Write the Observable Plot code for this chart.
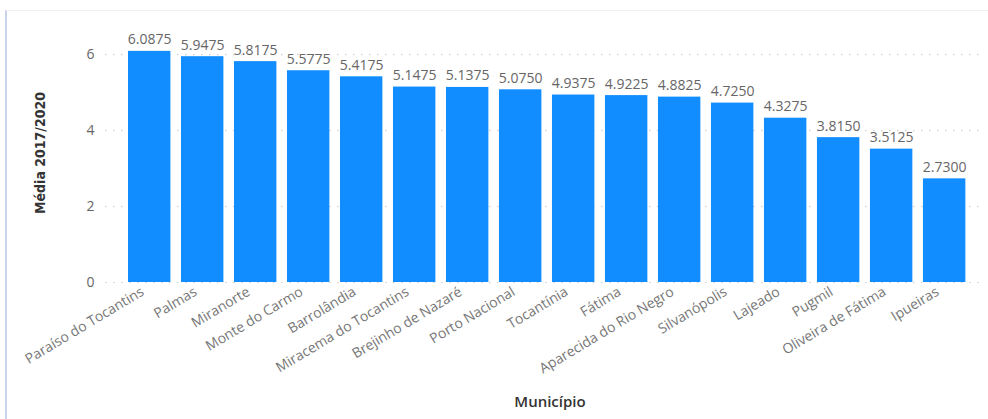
<!DOCTYPE html>
<html>
<head>
<meta charset="utf-8">
<script src="https://cdn.jsdelivr.net/npm/d3@7"></script>
<script src="https://cdn.jsdelivr.net/npm/@observablehq/plot@0.6"></script>
<style>
  html, body { margin: 0; padding: 0; background: #fff; }
  #wrap { position: relative; width: 988px; height: 419px; overflow: hidden; }
  #card { position: absolute; left: 5px; top: 10px; right: 0; bottom: 0;
          border-top: 1px solid #eef0f4; border-left: 2px solid #c9d3ec; }
  #chart { position: absolute; left: 0; top: 0; }
</style>
</head>
<body>
<div id="wrap"><div id="card"></div><div id="chart"></div></div>
<script>
const municipios = ["Paraíso do Tocantins", "Palmas", "Miranorte", "Monte do Carmo", "Barrolândia",
  "Miracema do Tocantins", "Brejinho de Nazaré", "Porto Nacional", "Tocantínia", "Fátima",
  "Aparecida do Rio Negro", "Silvanópolis", "Lajeado", "Pugmil", "Oliveira de Fátima", "Ipueiras"];
const medias = [6.0875, 5.9475, 5.8175, 5.5775, 5.4175, 5.1475, 5.1375, 5.0750, 4.9375, 4.9225,
  4.8825, 4.7250, 4.3275, 3.8150, 3.5125, 2.7300];
const yTicks = [0, 2, 4, 6];
const yLabel = "Média 2017/2020";
const xLabel = "Município";

const data = municipios.map((m, i) => ({municipio: m, media: medias[i]}));
const font = "'Open Sans', 'Noto Sans', sans-serif";

const chart = Plot.plot({
  width: 988,
  height: 419,
  marginLeft: 105,
  marginRight: 6,
  marginTop: 39,
  marginBottom: 137,
  style: {fontFamily: font, fontSize: "13px", color: "#777", background: "transparent"},
  x: {domain: municipios, paddingInner: 0.2, paddingOuter: 0.374, align: 0.58, round: false, label: null},
  y: {domain: [0, 6.4], label: null},
  marks: [
    Plot.gridY(yTicks, {stroke: "#cfcfcf", strokeOpacity: 1, strokeDasharray: "1.5,6.5", strokeWidth: 1.2}),
    Plot.barY(data, {x: "municipio", y: "media", fill: "#118DFF"}),
    Plot.text(data, {x: "municipio", y: "media", text: d => d.media.toFixed(4), lineAnchor: "bottom",
      dy: -7, fill: "#666", fontSize: 14}),
    Plot.axisY(yTicks, {tickSize: 0, tickPadding: 11, label: null, fontSize: 14, fill: "#666"}),
    Plot.axisX({tickSize: 0, tickPadding: 8, tickRotate: -31, dx: -7, label: null, fontSize: 14, fill: "#777"}),
    Plot.text([yLabel], {frameAnchor: "left", textAnchor: "middle", rotate: -90, dx: -65, dy: -8, fill: "#333",
      fontSize: 14, fontFamily: "'DejaVu Sans Condensed', 'DejaVu Sans', sans-serif", fontWeight: 600}),
    Plot.text([xLabel], {frameAnchor: "bottom", dx: 6, dy: 124, fill: "#333", fontSize: 15, fontWeight: 600})
  ]
});
document.getElementById("chart").appendChild(chart);
</script>
</body>
</html>
